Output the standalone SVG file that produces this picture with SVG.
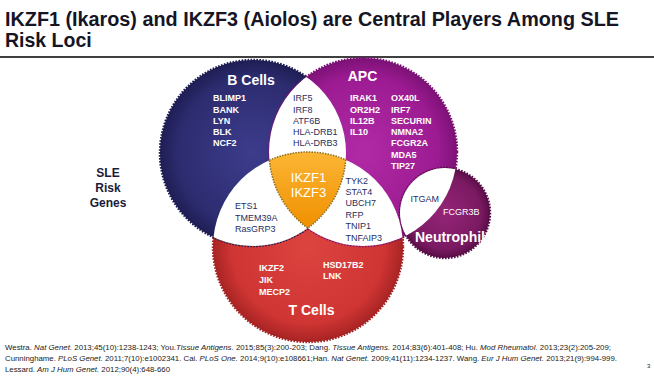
<svg xmlns="http://www.w3.org/2000/svg" width="654" height="379" viewBox="0 0 654 379">
<defs>
<style>
text{font-family:"Liberation Sans",Arial,sans-serif}
.title{font-size:19.5px;font-weight:bold;fill:#151525}
.lbl{font-size:14px;font-weight:bold;fill:#fff}
.gw{font-size:9px;font-weight:bold;fill:#fff}
.gn{font-size:9px;fill:#1f2f5f}
.fn{font-size:7px;fill:#222}
.fn tspan.i{font-style:italic}
.edge{stroke-width:2.5;stroke-dasharray:1.6 1.4;fill-opacity:1}
</style>
<radialGradient id="gB" cx="0.5" cy="0.5" r="0.5"><stop offset="0" stop-color="#3c3c8c"/><stop offset="0.8" stop-color="#2d2c70"/><stop offset="1" stop-color="#1f1e55"/></radialGradient>
<radialGradient id="gA" cx="0.5" cy="0.5" r="0.5"><stop offset="0" stop-color="#b02aa5"/><stop offset="0.8" stop-color="#9c1b92"/><stop offset="1" stop-color="#7d1277"/></radialGradient>
<radialGradient id="gT" cx="0.5" cy="0.5" r="0.5"><stop offset="0" stop-color="#dc4440"/><stop offset="0.8" stop-color="#cf3533"/><stop offset="1" stop-color="#a82424"/></radialGradient>
<radialGradient id="gN" cx="0.5" cy="0.5" r="0.5"><stop offset="0" stop-color="#952478"/><stop offset="0.8" stop-color="#7a1a62"/><stop offset="1" stop-color="#5a0e48"/></radialGradient>
<linearGradient id="gO" x1="0" y1="0" x2="0" y2="1"><stop offset="0" stop-color="#fbb634"/><stop offset="1" stop-color="#f09000"/></linearGradient>
<clipPath id="cB"><circle cx="253" cy="153" r="93"/></clipPath>
<clipPath id="cA"><circle cx="363" cy="152" r="94"/></clipPath>
<clipPath id="cT"><circle cx="308" cy="247" r="95"/></clipPath>
</defs>
<rect width="654" height="379" fill="#fff"/>
<g id="title">
<text class="title" x="5" y="26" textLength="614" lengthAdjust="spacingAndGlyphs">IKZF1 (Ikaros) and IKZF3 (Aiolos) are Central Players Among SLE</text>
<text class="title" x="5" y="46.5">Risk Loci</text>
<line x1="0" y1="57" x2="654" y2="57" stroke="#000" stroke-width="1.5"/>
</g>
<g id="sle-label" style="font-size:12px;font-weight:bold;fill:#1b1b3a" text-anchor="middle">
<text x="108" y="177">SLE</text>
<text x="108" y="192">Risk</text>
<text x="108" y="207">Genes</text>
</g>
<g id="t-cells">
<circle cx="308" cy="247" r="95" fill="url(#gT)" stroke="#a52222" class="edge"/>
</g>
<g id="b-cells">
<circle cx="253" cy="153" r="93" fill="url(#gB)" stroke="#1c1b4e" class="edge"/>
</g>
<g id="apc">
<circle cx="363" cy="152" r="94" fill="url(#gA)" stroke="#7a1072" class="edge"/>
</g>
<g id="neutrophils">
<circle cx="445" cy="213" r="45" fill="url(#gN)" stroke="#530c42" class="edge"/>
</g>
<g id="overlaps" fill="#fff">
<circle cx="253" cy="153" r="93" clip-path="url(#cA)"/>
<circle cx="308" cy="247" r="95" clip-path="url(#cB)"/>
<circle cx="308" cy="247" r="95" clip-path="url(#cA)"/>
<circle cx="445" cy="213" r="45" clip-path="url(#cA)"/>
</g>
<g id="ikzf">
<path d="M269.4,160.2 A95,95 0 0 1 345.7,159.8 A93,93 0 0 1 307.8,228.1 A94,94 0 0 1 269.4,160.2 Z" fill="url(#gO)" stroke="#8c6d1c" stroke-width="1.5" stroke-dasharray="1.5 1.2"/>
<text x="308.5" y="182" text-anchor="middle" style="font-size:13px;fill:#fff">IKZF1</text>
<text x="308.5" y="197" text-anchor="middle" style="font-size:13px;fill:#fff">IKZF3</text>
</g>
<g id="b-text">
<text class="lbl" x="251" y="85" text-anchor="middle">B Cells</text>
<text class="gw" x="213" y="101">BLIMP1</text>
<text class="gw" x="213" y="112.5">BANK</text>
<text class="gw" x="213" y="123.5">LYN</text>
<text class="gw" x="213" y="134.5">BLK</text>
<text class="gw" x="213" y="146">NCF2</text>
</g>
<g id="b-apc-text">
<text class="gn" x="293" y="101">IRF5</text>
<text class="gn" x="293" y="112.5">IRF8</text>
<text class="gn" x="293" y="123.5">ATF6B</text>
<text class="gn" x="293" y="134.5">HLA-DRB1</text>
<text class="gn" x="293" y="146">HLA-DRB3</text>
</g>
<g id="apc-text">
<text class="lbl" x="362.5" y="81" text-anchor="middle">APC</text>
<text class="gw" x="350" y="101">IRAK1</text>
<text class="gw" x="350" y="112.5">OR2H2</text>
<text class="gw" x="350" y="123.5">IL12B</text>
<text class="gw" x="350" y="134.5">IL10</text>
<text class="gw" x="391" y="101">OX40L</text>
<text class="gw" x="391" y="112.5">IRF7</text>
<text class="gw" x="391" y="123.5">SECURIN</text>
<text class="gw" x="391" y="134.5">NMNA2</text>
<text class="gw" x="391" y="146">FCGR2A</text>
<text class="gw" x="391" y="157.5">MDA5</text>
<text class="gw" x="391" y="168.5">TIP27</text>
</g>
<g id="b-t-text">
<text class="gn" x="235" y="209">ETS1</text>
<text class="gn" x="235" y="220.5">TMEM39A</text>
<text class="gn" x="235" y="232">RasGRP3</text>
</g>
<g id="apc-t-text">
<text class="gn" x="345.5" y="183.5">TYK2</text>
<text class="gn" x="345.5" y="195">STAT4</text>
<text class="gn" x="345.5" y="206">UBCH7</text>
<text class="gn" x="345.5" y="217.5">RFP</text>
<text class="gn" x="345.5" y="229">TNIP1</text>
<text class="gn" x="345.5" y="240.5">TNFAIP3</text>
</g>
<g id="neut-text">
<text class="gn" x="410.5" y="202">ITGAM</text>
<text x="443" y="215" style="font-size:9px;fill:#fff">FCGR3B</text>
<text class="lbl" x="415" y="242">Neutrophils</text>
</g>
<g id="t-text">
<text class="gw" x="259" y="271">IKZF2</text>
<text class="gw" x="259" y="283">JIK</text>
<text class="gw" x="259" y="295">MECP2</text>
<text class="gw" x="323" y="267.5">HSD17B2</text>
<text class="gw" x="323" y="279">LNK</text>
<text class="lbl" x="311.5" y="315" text-anchor="middle">T Cells</text>
</g>
<g id="footnote">
<text class="fn" x="5" y="350" textLength="606" lengthAdjust="spacingAndGlyphs">Westra. <tspan class="i">Nat Genet.</tspan> 2013;45(10):1238-1243; You.<tspan class="i">Tissue Antigens.</tspan> 2015;85(3):200-203; Dang. <tspan class="i">Tissue Antigens.</tspan> 2014;83(6):401-408; Hu. <tspan class="i">Mod Rheumatol.</tspan> 2013;23(2):205-209;</text>
<text class="fn" x="5" y="361" textLength="612" lengthAdjust="spacingAndGlyphs">Cunninghame. <tspan class="i">PLoS Genet.</tspan> 2011;7(10):e1002341. Cai. <tspan class="i">PLoS One.</tspan> 2014;9(10):e108661;Han. <tspan class="i">Nat Genet.</tspan> 2009;41(11):1234-1237. Wang. <tspan class="i">Eur J Hum Genet.</tspan> 2013;21(9):994-999.</text>
<text class="fn" x="5" y="372" textLength="165" lengthAdjust="spacingAndGlyphs">Lessard. <tspan class="i">Am J Hum Genet.</tspan> 2012;90(4):648-660</text>
<text x="647" y="368" style="font-size:6px;fill:#222">3</text>
</g>
</svg>
